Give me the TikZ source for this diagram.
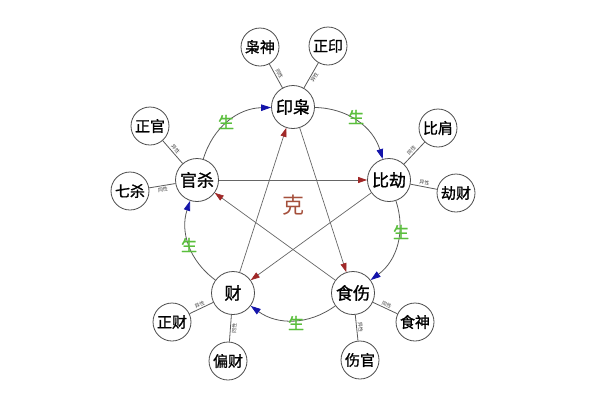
\documentclass[tikz,border=0pt]{standalone}
\usepackage{fontspec}
\newfontfamily\cjk{Noto Sans CJK SC}
\newfontfamily\cjkb[FakeBold=1.2]{Noto Sans CJK SC}
\usetikzlibrary{arrows.meta}
\definecolor{arrowblue}{RGB}{20,20,170}
\definecolor{arrowred}{RGB}{160,40,40}
\definecolor{shenggreen}{RGB}{90,190,60}
\definecolor{kered}{RGB}{165,80,60}
\begin{document}
\begin{tikzpicture}[x=1pt,y=-1pt,
  main/.style={circle, draw=black!70, line width=0.8pt, fill=white, minimum size=43pt, inner sep=0pt, font=\cjkb\fontsize{17}{17}\selectfont},
  outer/.style={circle, draw=black!70, line width=0.8pt, fill=white, minimum size=38pt, inner sep=0pt, font=\cjkb\fontsize{15}{15}\selectfont},
  spoke/.style={draw=black!65, line width=0.8pt},
  tag/.style={font=\cjk\fontsize{5}{5}\selectfont, inner sep=1.2pt, text=black!75},
  sheng/.style={draw=black!65, line width=0.8pt, -{Triangle[length=10pt,width=6.5pt,color=arrowblue,fill=arrowblue]}},
  ke/.style={draw=black!60, line width=0.7pt, -{Triangle[length=9pt,width=6pt,color=arrowred,fill=arrowred]}},
  shenglabel/.style={font=\cjkb\fontsize{16}{16}\selectfont, text=shenggreen}
]
\useasboundingbox (0,0) rectangle (600,400);
% main nodes
\node[main] (yx) at (293,107) {印枭};
\node[main] (bj) at (389,180) {比劫};
\node[main] (ss) at (353,293) {食伤};
\node[main] (cai) at (233,293) {财};
\node[main] (gs) at (197,180) {官杀};
% outer nodes
\node[outer] (xs) at (260,47) {枭神};
\node[outer] (zy) at (328,46) {正印};
\node[outer] (zg) at (150,126) {正官};
\node[outer] (qs) at (130,191) {七杀};
\node[outer] (bjian) at (438,128) {比肩};
\node[outer] (jc) at (456,193) {劫财};
\node[outer] (zc) at (172,322) {正财};
\node[outer] (pc) at (228,361) {偏财};
\node[outer] (sh) at (415,322) {食神};
\node[outer] (sg) at (360,360) {伤官};
% spokes
\draw[spoke] (yx) -- node[midway, sloped, above, tag] {同性} (xs);
\draw[spoke] (yx) -- node[midway, sloped, below, tag] {异性} (zy);
\draw[spoke] (gs) -- node[midway, sloped, above, tag] {异性} (zg);
\draw[spoke] (gs) -- node[midway, sloped, below, tag] {同性} (qs);
\draw[spoke] (bj) -- node[midway, sloped, above, tag] {同性} (bjian);
\draw[spoke] (bj) -- node[midway, sloped, above, tag] {异性} (jc);
\draw[spoke] (cai) -- node[midway, sloped, above, tag] {异性} (zc);
\draw[spoke] (cai) -- node[midway, sloped, below, tag] {同性} (pc);
\draw[spoke] (ss) -- node[midway, sloped, above, tag] {同性} (sh);
\draw[spoke] (ss) -- node[midway, sloped, above, tag] {异性} (sg);
% sheng cycle
\draw[sheng] (gs) to[bend left=36] (yx);
\draw[sheng] (yx) to[bend left=36] (bj);
\draw[sheng] (bj) to[bend left=36] (ss);
\draw[sheng] (ss) to[bend left=36] (cai);
\draw[sheng] (cai) to[bend left=36] (gs);
\node[shenglabel] (s1) at (226,122) {生};
\node[shenglabel] (s2) at (356,117) {生};
\node[shenglabel] (s3) at (401,232) {生};
\node[shenglabel] (s4) at (296,323) {生};
\node[shenglabel] (s5) at (189,245) {生};
% ke star
\draw[ke] (gs) -- (bj);
\draw[ke] (bj) -- (cai);
\draw[ke] (cai) -- (yx);
\draw[ke] (yx) -- (ss);
\draw[ke] (ss) -- (gs);
\node[font=\cjk\fontsize{22}{22}\selectfont, text=kered] (ke) at (293,205) {克};
\end{tikzpicture}
\end{document}
